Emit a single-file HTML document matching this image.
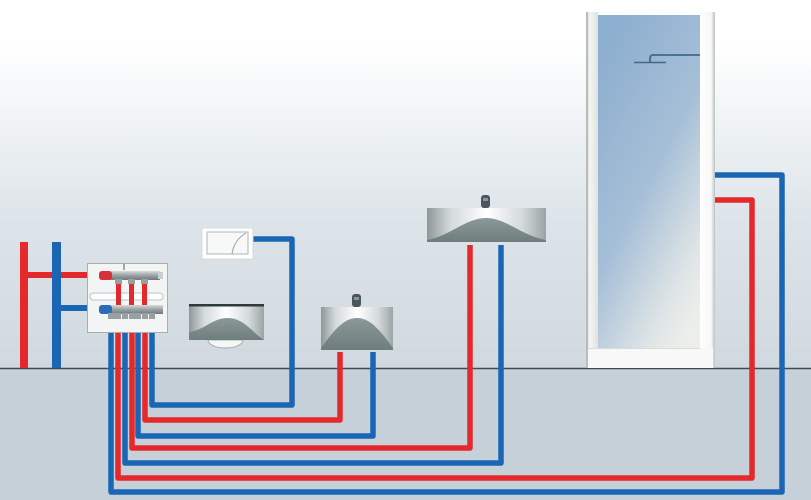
<!DOCTYPE html>
<html><head><meta charset="utf-8"><style>
html,body{margin:0;padding:0;background:#fff}
svg{display:block}
</style></head><body>
<svg width="811" height="500" viewBox="0 0 811 500" xmlns="http://www.w3.org/2000/svg">
<defs>
<linearGradient id="wall" x1="0" y1="0" x2="0" y2="1">
<stop offset="0" stop-color="#ffffff"/>
<stop offset="0.12" stop-color="#ffffff"/>
<stop offset="0.35" stop-color="#eef2f4"/>
<stop offset="0.6" stop-color="#dde4e9"/>
<stop offset="1" stop-color="#d0d9df"/>
</linearGradient>
<linearGradient id="glass" x1="0.2" y1="0" x2="0.8" y2="1">
<stop offset="0" stop-color="#8caecf"/>
<stop offset="0.5" stop-color="#a6bfd7"/>
<stop offset="0.85" stop-color="#dfe4e6"/>
<stop offset="1" stop-color="#eceeea"/>
</linearGradient>
<linearGradient id="sinkg" x1="0" y1="0" x2="1" y2="0">
<stop offset="0" stop-color="#8e9898"/>
<stop offset="0.2" stop-color="#d4d9da"/>
<stop offset="0.5" stop-color="#ffffff"/>
<stop offset="0.8" stop-color="#d4d9da"/>
<stop offset="1" stop-color="#9aa4a4"/>
</linearGradient>
<linearGradient id="mound" x1="0" y1="0" x2="0" y2="1">
<stop offset="0" stop-color="#8a9898"/>
<stop offset="1" stop-color="#6f7d7d"/>
</linearGradient>
<linearGradient id="post" x1="0" y1="0" x2="1" y2="0">
<stop offset="0" stop-color="#c8ccca"/>
<stop offset="0.3" stop-color="#f4f5f3"/>
<stop offset="1" stop-color="#dfe3df"/>
</linearGradient>
<linearGradient id="rpost" x1="0" y1="0" x2="1" y2="0">
<stop offset="0" stop-color="#ffffff"/>
<stop offset="0.75" stop-color="#f6f7f6"/>
<stop offset="1" stop-color="#b9c0c0"/>
</linearGradient>
<linearGradient id="bar" x1="0" y1="0" x2="0" y2="1">
<stop offset="0" stop-color="#d6dadb"/>
<stop offset="0.5" stop-color="#9aa2a3"/>
<stop offset="1" stop-color="#6f7879"/>
</linearGradient>
</defs>

<!-- background -->
<rect x="0" y="0" width="811" height="368" fill="url(#wall)"/>
<rect x="0" y="368" width="811" height="132" fill="#c5d0d8"/>
<line x1="0" y1="368.5" x2="811" y2="368.5" stroke="#3e4b50" stroke-width="1.5"/>

<!-- shower -->
<rect x="586" y="12" width="12" height="356" fill="url(#post)"/>
<rect x="586" y="12" width="2" height="356" fill="#b7bdbb"/>
<rect x="598" y="15" width="103" height="334" fill="url(#glass)"/>
<rect x="700" y="12" width="15" height="356" fill="url(#rpost)"/>
<rect x="588" y="348" width="125" height="20" fill="#f7f8f7"/>
<line x1="588" y1="348.5" x2="700" y2="348.5" stroke="#d7dcda" stroke-width="1"/>
<!-- shower head -->
<path d="M700,55 H653 Q650,55 650,59 V62" fill="none" stroke="#3f6a8a" stroke-width="1.8"/>
<line x1="634" y1="62.5" x2="666" y2="62.5" stroke="#3f6a8a" stroke-width="1.5"/>

<!-- left supply pipes -->
<rect x="28" y="272" width="74" height="6" fill="#e5282c"/>
<rect x="61" y="305" width="41" height="6" fill="#1a66b5"/>
<rect x="20" y="242" width="8" height="126" fill="#e5282c"/>
<rect x="52" y="242" width="9" height="126" fill="#1a66b5"/>

<!-- distribution pipes -->
<g fill="none" stroke-width="5.5" stroke-linejoin="round">
<path d="M111,316 V492 H782 V175 H715" stroke="#1a66b5"/>
<path d="M118,316 V478 H752 V200 H715" stroke="#e5282c"/>
<path d="M125,316 V463 H501 V245" stroke="#1a66b5"/>
<path d="M132,316 V448 H470 V245" stroke="#e5282c"/>
<path d="M138,316 V436 H373 V352" stroke="#1a66b5"/>
<path d="M145,316 V420 H340 V352" stroke="#e5282c"/>
<path d="M152,316 V405 H292 V239 H253" stroke="#1a66b5"/>
</g>

<!-- manifold -->
<rect x="87.5" y="263.5" width="80" height="69" fill="#f3f5f5" stroke="#a7aeb0" stroke-width="1"/>
<rect x="90" y="293" width="73" height="7" rx="3" fill="#fbfcfc" stroke="#bcc3c5" stroke-width="1"/>
<g fill="#e5282c">
<rect x="116" y="280" width="5" height="25"/>
<rect x="129" y="280" width="5" height="25"/>
<rect x="142" y="280" width="5" height="25"/>
</g>
<rect x="108" y="271" width="52" height="9" fill="url(#bar)"/>
<rect x="158" y="272" width="5" height="7" fill="#c9cecf"/>
<rect x="99" y="271" width="13" height="9" rx="3" fill="#d6303a"/>
<rect x="108" y="305" width="55" height="9" fill="url(#bar)"/>
<rect x="99" y="305" width="13" height="9" rx="3" fill="#2b6cb8"/>
<g fill="#98a1a2">
<rect x="115" y="279" width="7" height="5"/>
<rect x="128" y="279" width="7" height="5"/>
<rect x="141" y="279" width="7" height="5"/>
<rect x="108" y="313" width="7" height="6"/>
<rect x="115" y="313" width="6" height="6"/>
<rect x="122" y="313" width="6" height="6"/>
<rect x="129" y="313" width="6" height="6"/>
<rect x="135" y="313" width="6" height="6"/>
<rect x="142" y="313" width="6" height="6"/>
<rect x="149" y="313" width="6" height="6"/>
</g>
<g stroke="#555" stroke-width="1">
<line x1="124" y1="264" x2="124" y2="270"/>
<line x1="118" y1="299" x2="118" y2="304"/>
</g>

<!-- flush plate -->
<rect x="202" y="228" width="51" height="31" fill="#ffffff" stroke="#d5dadc" stroke-width="1"/>
<rect x="207" y="232" width="41" height="22" fill="#f7f8f8" stroke="#aeb5b6" stroke-width="1"/>
<path d="M232,254 Q234,240 246,233" fill="none" stroke="#9aa2a3" stroke-width="1"/>

<!-- toilet -->
<path d="M208,340 A17.5,8 0 0 0 243,340 Z" fill="#f5f7f7" stroke="#a4abad" stroke-width="1"/>
<rect x="189" y="305" width="75" height="35" fill="url(#sinkg)"/>
<path d="M189,332 C205,330 212,318 228,318 C244,318 254,334 264,340 H189 Z" fill="url(#mound)"/>
<rect x="189" y="304" width="75" height="2.5" fill="#2e3b3c"/>

<!-- sink 2 -->
<rect x="352" y="294" width="9" height="13" rx="3" fill="#4a5659"/>
<rect x="354" y="297" width="5" height="3" fill="#8a9699"/>
<rect x="321" y="307" width="72" height="43" fill="url(#sinkg)"/>
<path d="M321,348 C334,330 344,318 357,318 C370,318 380,330 393,348 V350 H321 Z" fill="url(#mound)"/>

<!-- sink 3 -->
<rect x="481" y="195" width="9" height="13" rx="3" fill="#4a5659"/>
<rect x="483" y="198" width="5" height="3" fill="#8a9699"/>
<rect x="427" y="208" width="119" height="34" fill="url(#sinkg)"/>
<path d="M427,240 C450,236 466,218 486,218 C506,218 522,236 546,240 V242 H427 Z" fill="url(#mound)"/>
</svg>
</body></html>
